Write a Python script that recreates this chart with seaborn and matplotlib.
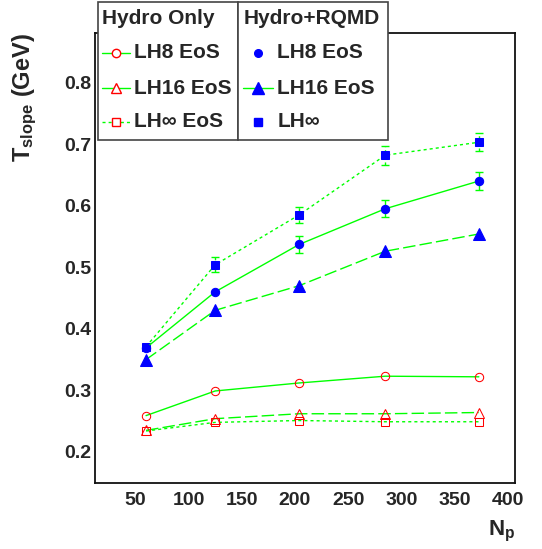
import numpy as np
import pandas as pd
import seaborn as sns
import matplotlib.pyplot as plt
from matplotlib.patches import Rectangle
from matplotlib.lines import Line2D
from matplotlib.ticker import MultipleLocator, FormatStrFormatter

# Daten
n_part = [60, 125, 204, 285, 373]

rqmd_lh8 = [0.369, 0.460, 0.537, 0.595, 0.640]
rqmd_lh8_err = [0.0, 0.0, 0.0135, 0.0135, 0.014]
rqmd_lh16 = [0.350, 0.430, 0.470, 0.526, 0.554]
rqmd_lhinf = [0.371, 0.504, 0.585, 0.682, 0.703]
rqmd_lhinf_err = [0.0, 0.012, 0.013, 0.0155, 0.015]

hydro_lh8 = [0.259, 0.299, 0.312, 0.323, 0.322]
hydro_lh16 = [0.235, 0.254, 0.262, 0.262, 0.264]
hydro_lhinf = [0.234, 0.248, 0.251, 0.249, 0.249]

sns.set_style("white")
plt.rcParams['font.family'] = ['Liberation Sans', 'DejaVu Sans']
plt.rcParams['font.weight'] = 'bold'
plt.rcParams['mathtext.fontset'] = 'custom'
plt.rcParams['mathtext.rm'] = 'Liberation Sans:bold'
plt.rcParams['mathtext.bf'] = 'Liberation Sans:bold'
plt.rcParams['mathtext.it'] = 'Liberation Sans:bold'

GREEN = (0, 1, 0)
RED = (1, 0, 0)
BLUE = (0, 0, 1)
DASH_LONG = (0, (9, 3))
DASH_SHORT = (0, (2.2, 2.2))

fig = plt.figure(figsize=(5.42, 5.49), dpi=100)
ax = fig.add_axes([95 / 542, 1 - 482.7 / 549, 420 / 542, 449.4 / 549])

df = pd.DataFrame({
    'Np': n_part,
    'rqmd_lh8': rqmd_lh8, 'rqmd_lh16': rqmd_lh16, 'rqmd_lhinf': rqmd_lhinf,
    'hydro_lh8': hydro_lh8, 'hydro_lh16': hydro_lh16, 'hydro_lhinf': hydro_lhinf,
})

# Fehlerbalken (nur Hydro+RQMD LH8 / LH-inf)
eb = ax.errorbar(n_part, rqmd_lh8, yerr=rqmd_lh8_err, fmt='none', ecolor=GREEN,
                 elinewidth=1, capsize=3, capthick=1, zorder=2)
eb2 = ax.errorbar(n_part, rqmd_lhinf, yerr=rqmd_lhinf_err, fmt='none', ecolor=GREEN,
                  elinewidth=1, capsize=3, capthick=1, zorder=2)
for c in eb2[2]:
    c.set_linestyle(DASH_SHORT)

# Hydro+RQMD
sns.lineplot(data=df, x='Np', y='rqmd_lhinf', ax=ax, color=GREEN, lw=1, linestyle=DASH_SHORT,
             marker='s', markersize=5.6, markerfacecolor=BLUE, markeredgecolor=BLUE, zorder=3)
sns.lineplot(data=df, x='Np', y='rqmd_lh8', ax=ax, color=GREEN, lw=1, linestyle='-',
             marker='o', markersize=6, markerfacecolor=BLUE, markeredgecolor=BLUE, zorder=3)
sns.lineplot(data=df, x='Np', y='rqmd_lh16', ax=ax, color=GREEN, lw=1, linestyle=DASH_LONG,
             marker='^', markersize=8, markerfacecolor=BLUE, markeredgecolor=BLUE, zorder=3)

# Hydro Only
sns.lineplot(data=df, x='Np', y='hydro_lh8', ax=ax, color=GREEN, lw=1, linestyle='-',
             marker='o', markersize=6, markerfacecolor='none', markeredgecolor=RED, zorder=3)
sns.lineplot(data=df, x='Np', y='hydro_lh16', ax=ax, color=GREEN, lw=1, linestyle=DASH_LONG,
             marker='^', markersize=6.5, markerfacecolor='none', markeredgecolor=RED, zorder=3)
sns.lineplot(data=df, x='Np', y='hydro_lhinf', ax=ax, color=GREEN, lw=1, linestyle=DASH_SHORT,
             marker='s', markersize=5.6, markerfacecolor='none', markeredgecolor=RED, zorder=3)

ax.set_xlim(12, 407)
ax.set_ylim(0.15, 0.88)
ax.set_xlabel('')
ax.set_ylabel('')
ax.xaxis.set_major_locator(MultipleLocator(50))
ax.xaxis.set_minor_locator(MultipleLocator(10))
ax.set_yticks(np.arange(0.2, 0.85, 0.1))
ax.yaxis.set_major_formatter(FormatStrFormatter('%.1f'))
ax.yaxis.set_minor_locator(MultipleLocator(0.05))
ax.tick_params(axis='both', which='both', direction='in', top=False, right=False,
               labelsize=14, width=1.2, color='#222222')
ax.tick_params(axis='both', which='major', length=9)
ax.tick_params(axis='both', which='minor', length=4.3)
ax.tick_params(axis='x', which='major', pad=6.5)
ax.tick_params(axis='y', which='major', pad=2.5)
for s in ax.spines.values():
    s.set_linewidth(1.3)
    s.set_color('#111111')
ax.set_facecolor('white')

# Achsenbeschriftungen
fig.text(25 / 542, 1 - 33 / 549, r'$\mathbf{T_{slope}}$ (GeV)', rotation=90,
         ha='center', va='top', fontsize=17, fontweight='bold')
fig.text(515 / 542, 1 - 519 / 549, r'$\mathbf{N_{p}}$', ha='right', va='top',
         fontsize=16, fontweight='bold')


# Legende (zwei Spalten, von Hand gezeichnet)
def fx(px):
    return px / 542


def fy(py):
    return 1 - py / 549


for x0, x1 in [(98, 238), (238, 388)]:
    fig.add_artist(Rectangle((fx(x0), fy(140)), fx(x1) - fx(x0), fy(2) - fy(140),
                             transform=fig.transFigure, facecolor='white',
                             edgecolor='#444444', lw=1.2, zorder=5))

fig.text(fx(102.5), fy(19), 'Hydro Only', ha='left', va='center', fontsize=15,
         fontweight='bold', zorder=6)
fig.text(fx(244), fy(19), 'Hydro+RQMD', ha='left', va='center', fontsize=15,
         fontweight='bold', zorder=6)

rows_y = [52.7, 88.3, 121.7]
left_entries = [('-', 'o', 6, 'LH8 EoS'), ('-', '^', 6.5, 'LH16 EoS'),
                (DASH_SHORT, 's', 5.6, 'LH\u221e EoS')]
for yy, (ls, mk, ms, lab) in zip(rows_y, left_entries):
    fig.add_artist(Line2D([fx(102.3), fx(130)], [fy(yy), fy(yy)], transform=fig.transFigure,
                          color=GREEN, lw=1, linestyle=ls, zorder=6))
    fig.add_artist(Line2D([fx(116)], [fy(yy)], transform=fig.transFigure, marker=mk,
                          markersize=ms, markerfacecolor='white', markeredgecolor=RED,
                          linestyle='none', zorder=7))
    fig.text(fx(134.3), fy(yy), lab, ha='left', va='center', fontsize=15,
             fontweight='bold', zorder=6)

right_entries = [(None, 'o', 5.5, 'LH8 EoS'), ('-', '^', 8, 'LH16 EoS'),
                 (None, 's', 5.3, 'LH\u221e')]
for yy, (ls, mk, ms, lab) in zip(rows_y, right_entries):
    if ls is not None:
        fig.add_artist(Line2D([fx(243.3), fx(272.7)], [fy(yy), fy(yy)],
                              transform=fig.transFigure, color=GREEN, lw=1, linestyle=ls,
                              zorder=6))
    fig.add_artist(Line2D([fx(257.7)], [fy(yy)], transform=fig.transFigure, marker=mk,
                          markersize=ms, markerfacecolor=BLUE, markeredgecolor=BLUE,
                          linestyle='none', zorder=7))
    fig.text(fx(277.3), fy(yy), lab, ha='left', va='center', fontsize=15,
             fontweight='bold', zorder=6)

plt.savefig('out.png', dpi=100, facecolor='white')
plt.close()
